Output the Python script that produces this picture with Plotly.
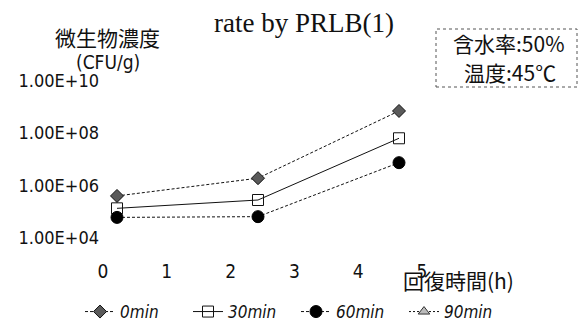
import plotly.graph_objects as go

# ---- data ----
hours = [0, 2, 4]
series_names = ["0min", "30min", "60min", "90min"]
v_0min = [4.0e5, 1.9e6, 6.9e8]
v_30min = [1.35e5, 2.8e5, 6.3e7]
v_60min = [6.1e4, 6.5e4, 7.4e6]
v_90min = []
x_tick_vals = [0, 1, 2, 3, 4, 5]
x_tick_text = ["0", "1", "2", "3", "4", "5"]
y_tick_vals = [1e4, 1e6, 1e8, 1e10]
y_tick_text = ["1.00E+04", "1.00E+06", "1.00E+08", "1.00E+10"]

SANS = "DejaVu Sans Condensed, Liberation Sans Narrow, DejaVu Sans, sans-serif"
CJK = "Noto Sans CJK JP, sans-serif"
SERIF = "Liberation Serif, Times New Roman, serif"

fig = go.Figure()

styles = [
    dict(symbol="diamond", size=10, color="#5a5a5a", line=dict(color="#111", width=1)),
    dict(symbol="square-open", size=11, color="#111", line=dict(color="#111", width=1)),
    dict(symbol="circle", size=12, color="#000", line=dict(color="#000", width=1)),
    dict(symbol="triangle-up", size=10, color="#bbbbbb", line=dict(color="#333", width=1)),
]
dashes = ["3px,2px", "solid", "3px,2px", "2px,2px"]
values = [v_0min, v_30min, v_60min, v_90min]

for name, vals, st, ds in zip(series_names, values, styles, dashes):
    xs = hours[:len(vals)] if vals else [None]
    ys = vals if vals else [None]
    fig.add_trace(go.Scatter(
        x=xs, y=ys, name=name, mode="lines+markers",
        line=dict(color="#111", width=1, dash=ds),
        marker=st,
    ))

# dummy trace on the tick-label axis so xaxis2 renders
fig.add_trace(go.Scatter(x=[None], y=[None], xaxis="x2", showlegend=False))

L, R, T, B = 100, 470, 75, 258
W, H = 582, 329

def px(xp):
    return (xp - L) / (R - L)

def py(yp):
    return (B - yp) / (B - T)

fig.update_layout(
    width=W, height=H,
    margin=dict(l=L, r=W - R, t=T, b=H - B, autoexpand=False),
    paper_bgcolor="white", plot_bgcolor="white",
    showlegend=True,
    legend=dict(
        orientation="h", x=px(80), xanchor="left", xref="paper",
        y=py(312), yanchor="middle",
        font=dict(family=SANS, size=17, color="#111", style="italic"),
        entrywidth=63, entrywidthmode="pixels", tracegroupgap=0,
    ),
    xaxis=dict(
        range=[(L - 117) / 70.5, (R - 117) / 70.5],
        showticklabels=False, showgrid=False, zeroline=False, showline=False,
        ticks="",
    ),
    xaxis2=dict(
        overlaying="x", side="bottom", anchor="y",
        range=[(L - 103) / 63.8, (R - 103) / 63.8],
        tickvals=x_tick_vals, ticktext=x_tick_text,
        tickfont=dict(family=SANS, size=19, color="#111"),
        showgrid=False, zeroline=False, showline=False, ticks="",
    ),
    yaxis=dict(
        type="log",
        range=[4 + (238 - B) / 26.25, 4 + (238 - T) / 26.25],
        tickvals=y_tick_vals, ticktext=y_tick_text,
        tickfont=dict(family=SANS, size=18, color="#111"),
        showgrid=False, zeroline=False, showline=False, ticks="",
    ),
)

annots = [
    dict(text="rate by PRLB(1)", x=px(304), y=py(23),
         font=dict(family=SERIF, size=27, color="#111")),
    dict(text="微生物濃度", x=px(107), y=py(37),
         font=dict(family=CJK, size=21, color="#111")),
    dict(text="(CFU/g)", x=px(108), y=py(62),
         font=dict(family=SANS, size=19, color="#111")),
    dict(text="含水率:50%", x=px(509), y=py(43),
         font=dict(family=CJK, size=21, color="#111")),
    dict(text="温度:45℃", x=px(510), y=py(72),
         font=dict(family=CJK, size=21, color="#111")),
    dict(text="回復時間(h)", x=px(458), y=py(280),
         font=dict(family=CJK, size=21, color="#111")),
]
for a in annots:
    fig.add_annotation(xref="paper", yref="paper", showarrow=False,
                       xanchor="center", yanchor="middle", **a)

fig.add_shape(type="rect", xref="paper", yref="paper",
              x0=px(436), x1=px(577), y0=py(87), y1=py(29),
              line=dict(color="#555", width=1, dash="dot"))

fig.write_html("out.html")
